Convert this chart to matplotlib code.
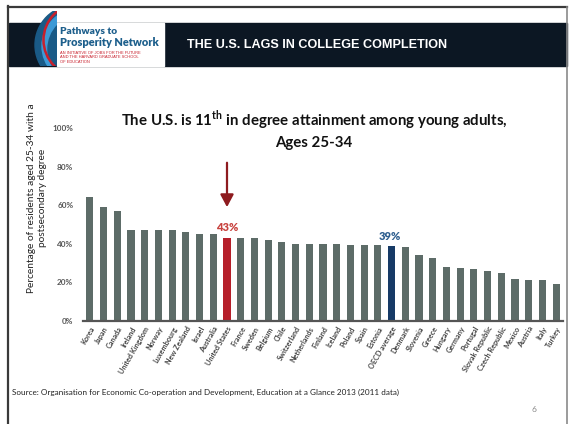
import matplotlib
matplotlib.use("Agg")
import matplotlib.pyplot as plt
from matplotlib.patches import Rectangle, Circle

# ---- data ----
countries = ["Korea", "Japan", "Canada", "Ireland", "United Kingdom", "Norway",
             "Luxembourg", "New Zealand", "Israel", "Australia", "United States",
             "France", "Sweden", "Belgium", "Chile", "Switzerland", "Netherlands",
             "Finland", "Iceland", "Poland", "Spain", "Estonia", "OECD average",
             "Denmark", "Slovenia", "Greece", "Hungary", "Germany", "Portugal",
             "Slovak Republic", "Czech Republic", "Mexico", "Austria", "Italy", "Turkey"]
values = [64, 59, 57, 47, 47, 47, 47, 46, 45, 45, 43, 43, 43, 42, 41, 40, 40,
          40, 40, 39.5, 39.5, 39.5, 39, 38.5, 34, 32.5, 28, 27.5, 27, 26, 25,
          22, 21, 21, 19]
yticks = [0, 20, 40, 60, 80, 100]
ytick_labels = ["0%", "20%", "40%", "60%", "80%", "100%"]
us_label = "43%"
oecd_label = "39%"

W, H = 569, 424
fig = plt.figure(figsize=(W / 100, H / 100), dpi=100)
plt.rcParams['mathtext.fontset'] = 'custom'
plt.rcParams['mathtext.rm'] = 'Lato:bold'

# background / slide decoration axes in pixel coordinates
bg = fig.add_axes([0, 0, 1, 1], zorder=0)
bg.set_xlim(0, W)
bg.set_ylim(H, 0)
bg.axis("off")

# slide frame
bg.plot([8, 8], [6, H], color="#3a3a3a", lw=1.6)
bg.plot([8, 567.5], [7, 7], color="#3a3a3a", lw=1.6)
bg.plot([567.5, 567.5], [7, H], color="#8a8a8a", lw=1.2)

# header band
bg.add_patch(Rectangle((9, 23), 558, 43, color="#0c1723", zorder=1))
bg.add_patch(Rectangle((57, 23), 107, 43, color="white", zorder=2))
bg.text(187, 45, "THE U.S. LAGS IN COLLEGE COMPLETION", color="white",
        fontsize=9.1, fontweight="bold", family="Liberation Sans",
        va="center", ha="left", zorder=3)

# logo
clip = Rectangle((30, 11), 27, 55, transform=bg.transData)
for c in [Circle((75, 45), 40, color="#1a5a86"),
          Circle((79, 46), 37, color="#3d9ad6"),
          Circle((82, 49), 34, color="#1a5a86"),
          Circle((80, 40), 36.5, fill=False, ec="#c8202c", lw=1.8)]:
    c.set_zorder(4)
    bg.add_patch(c)
    c.set_clip_path(clip)
bg.text(60, 31, "Pathways to", color="#1d5f8c", fontsize=7.3,
        fontweight="heavy", family="Lato", va="center", ha="left", zorder=5)
bg.text(60, 43, "Prosperity Network", color="#1d5f8c", fontsize=7.9,
        fontweight="heavy", family="Lato", va="center", ha="left", zorder=5)
for i, line in enumerate(["AN INITIATIVE OF JOBS FOR THE FUTURE",
                          "AND THE HARVARD GRADUATE SCHOOL",
                          "OF EDUCATION"]):
    bg.text(60, 52.5 + i * 4.8, line, color="#c8202c", fontsize=2.9,
            family="Liberation Sans", va="center", ha="left", zorder=5)

# chart title
bg.text(314, 120, r"The U.S. is 11$^{\mathrm{th}}$ in degree attainment among young adults,",
        fontsize=10.85, fontweight="bold", family="Lato", color="#111111",
        ha="center", va="center")
bg.text(314, 143, "Ages 25-34", fontsize=10.85, fontweight="bold", family="Lato",
        color="#111111", ha="center", va="center")

# y label
bg.text(37, 198, "Percentage of residents aged 25-34 with a\npostsecondary degree",
        rotation=90, fontsize=7.3, family="Lato", color="#222222",
        ha="center", va="center", linespacing=1.15)

# source and slide number
bg.text(12, 392, "Source: Organisation for Economic Co-operation and Development, "
        "Education at a Glance 2013 (2011 data)", fontsize=5.85, family="Lato",
        color="#222222", ha="left", va="center")
bg.text(534, 409, "6", fontsize=6, family="Lato", color="#888888",
        ha="center", va="center")

# ---- chart axes ----
left, right, base, top = 83, 563, 321, 128
ax = fig.add_axes([left / W, 1 - base / H, (right - left) / W, (base - top) / H],
                  zorder=2)
ax.patch.set_alpha(0)
x = list(range(len(countries)))
colors = []
for c in countries:
    if c == "United States":
        colors.append("#b61f2a")
    elif c == "OECD average":
        colors.append("#163a66")
    else:
        colors.append("#5d6c68")
ax.bar(x, values, width=0.52, color=colors, zorder=2)
ax.set_xlim(-0.5, len(countries) - 0.5)
ax.set_ylim(0, 100)
ax.set_yticks(yticks)
ax.set_yticklabels(ytick_labels, fontsize=5.9, color="#555555",
                   family="Lato", fontweight="bold")
ax.set_xticks(x)
ax.set_xticklabels(countries, rotation=60, ha="right", rotation_mode="anchor",
                   fontsize=5.2, color="#444444", family="Lato", fontweight="bold")
ax.tick_params(axis="both", length=0)
ax.tick_params(axis="y", pad=7)
ax.tick_params(axis="x", pad=3)
for s in ["left", "right", "top"]:
    ax.spines[s].set_visible(False)
ax.spines["bottom"].set_color("#555555")
ax.spines["bottom"].set_linewidth(1.6)
ax.spines["bottom"].set_zorder(3)

us_i = countries.index("United States")
oecd_i = countries.index("OECD average")
ax.text(us_i, values[us_i] + 2.5, us_label, color="#c8433f", fontsize=8,
        fontweight="heavy", family="Lato", ha="center", va="bottom")
ax.text(oecd_i - 0.15, values[oecd_i] + 2.0, oecd_label, color="#2f5f8f", fontsize=8,
        fontweight="heavy", family="Lato", ha="center", va="bottom")
ax.annotate("", xy=(us_i, 59), xytext=(us_i, 82),
            arrowprops=dict(arrowstyle="-|>,head_length=0.75,head_width=0.4",
                            color="#8e1b1f", lw=1.6, shrinkA=0, shrinkB=0))

fig.savefig("out.png", dpi=100)
